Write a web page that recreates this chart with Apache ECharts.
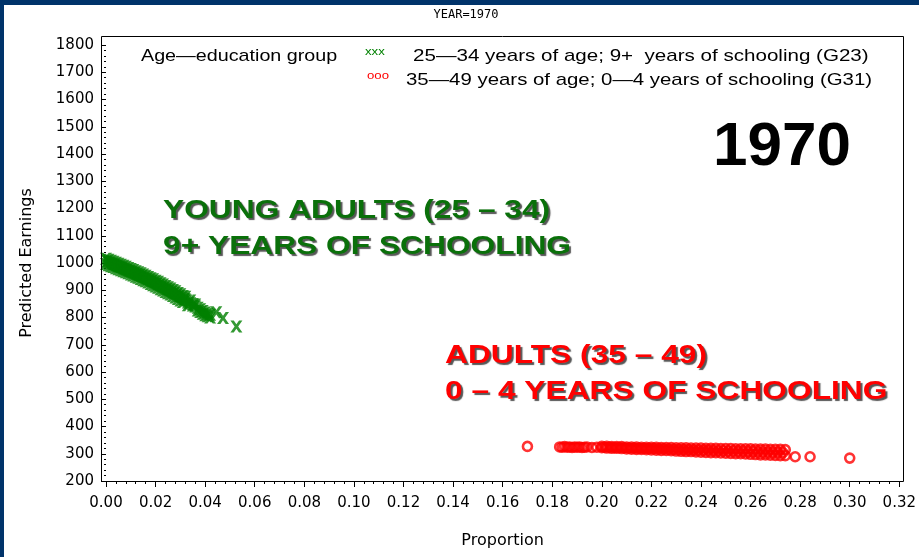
<!DOCTYPE html>
<html>
<head>
<meta charset="utf-8">
<script src="https://cdn.jsdelivr.net/npm/echarts@6/dist/echarts.min.js"></script>
<style>
html,body{margin:0;padding:0;background:#fff;}
#chart{width:919px;height:557px;}
</style>
</head>
<body>
<div id="chart"></div>
<script>
// G23: 25-34 years of age; 9+ years of schooling
const g23Proportion = [0.000,0.000,0.001,0.001,0.002,0.002,0.003,0.003,0.004,0.004,0.005,0.005,0.006,0.006,0.007,0.007,0.008,0.008,0.009,0.009,0.010,0.010,0.011,0.011,0.012,0.012,0.013,0.013,0.014,0.014,0.015,0.015,0.016,0.016,0.017,0.017,0.018,0.018,0.019,0.019,0.020,0.020,0.021,0.021,0.022,0.022,0.023,0.023,0.024,0.024,0.025,0.025,0.026,0.026,0.027,0.027,0.028,0.028,0.029,0.029,0.030,0.030,0.031,0.031,0.032,0.032,0.0325,0.033,0.033,0.034,0.034,0.035,0.035,0.036,0.036,0.037,0.037,0.038,0.038,0.039,0.039,0.040,0.040,0.041,0.041,0.042,0.042,0.0445,0.0472,0.0526,
  0.0005,0.0015,0.0025,0.0035,0.0045,0.0055,0.0065,0.0075,0.0085,0.0095,0.0105,0.0115,0.0125,0.0135,0.0145,0.0155,0.0165,0.0175,0.0185,0.0195,0.0205,0.0215,0.0225,0.0235,0.0245,0.0255,0.0265,0.0275,0.0285,0.0295,0.0305,0.0315];
const g23Earnings = [1016,996,1012,992,1008,988,1005,985,1001,981,997,977,994,973,990,970,986,966,982,962,978,958,974,954,970,950,966,946,962,941,958,937,953,933,949,928,944,923,940,918,935,914,931,909,926,904,921,899,916,894,911,889,906,884,901,879,896,873,890,868,885,862,879,857,876,866,862,855,845,862,852,844,850,848,840,836,826,830,820,824,814,818,808,814,805,810,800,819,798,767,
  1006,1002,998,995,991,987,984,980,976,972,968,964,960,956,952,948,943,939,934,929,925,920,915,910,905,900,895,890,885,879,874,868];
// G31: 35-49 years of age; 0-4 years of schooling
const g31Proportion = [0.170,0.183,0.184,0.185,0.186,0.187,0.188,0.189,0.190,0.191,0.192,0.193,0.194,0.196,0.198,0.200,0.200,0.202,0.202,0.204,0.204,0.206,0.206,0.208,0.208,0.210,0.210,0.212,0.212,0.214,0.214,0.216,0.216,0.218,0.218,0.220,0.220,0.222,0.222,0.224,0.224,0.226,0.226,0.228,0.228,0.230,0.230,0.232,0.232,0.234,0.234,0.236,0.236,0.238,0.238,0.240,0.240,0.242,0.242,0.244,0.244,0.246,0.246,0.248,0.248,0.250,0.250,0.252,0.252,0.254,0.254,0.256,0.256,0.258,0.258,0.260,0.260,0.262,0.262,0.264,0.264,0.266,0.266,0.268,0.268,0.270,0.270,0.272,0.272,0.274,0.274,0.278,0.284,0.300,
  0.201,0.203,0.205,0.207,0.209,0.211,0.213,0.215,0.217,0.219,0.221,0.223,0.225,0.227,0.229,0.231,0.233,0.235,0.237,0.239,0.241,0.243,0.245,0.247,0.249,0.251,0.253,0.255,0.257,0.259,0.261,0.263,0.265,0.267,0.269,0.271,0.273];
const g31Earnings = [327,325,324,326,324,325,323,325,324,325,323,324,325,323,324,327,322,327,321,326,320,326,320,326,319,325,318,325,317,325,316,324,316,324,315,324,314,324,313,323,312,323,312,323,311,322,310,322,309,322,308,321,308,321,307,321,306,320,305,320,304,320,304,319,303,319,302,319,301,318,300,318,300,318,299,318,298,317,297,317,296,317,296,316,295,316,294,316,293,315,293,289,289,284,
  324,324,323,323,322,321,321,320,320,319,319,318,318,317,316,316,315,315,314,314,313,313,312,311,311,310,310,309,309,308,308,307,306,306,305,305,304];

const legendTitle = 'Age\u2014education group';
const legendLabels = ['25\u201434 years of age; 9+  years of schooling (G23)', '35\u201449 years of age; 0\u20144 years of schooling (G31)'];
const chartTitle = 'YEAR=1970';
const xAxisTitle = 'Proportion';
const yAxisTitle = 'Predicted Earnings';
const yearLabel = '1970';
const noteG23 = ['YOUNG ADULTS (25 \u2013 34)', '9+ YEARS OF SCHOOLING'];
const noteG31 = ['ADULTS (35 \u2013 49)', '0 \u2013 4 YEARS OF SCHOOLING'];

const xSymbol = 'path://M0,0 L2.8,0 L5,3.1 L7.2,0 L10,0 L6.5,5 L10,10 L7.2,10 L5,6.9 L2.8,10 L0,10 L3.5,5 Z';

const chart = echarts.init(document.getElementById('chart'), null, {renderer: 'canvas'});

const tickFont = 'DejaVu Sans';
function txt(text, x, y, font, fill, opts) {
  opts = opts || {};
  const align = opts.align || 'left';
  return {
    type: 'text', x: x, y: y, silent: true, z: 20,
    scaleX: opts.scaleX || 1,
    style: {text: text, font: font, fill: fill, align: align, textAlign: align, verticalAlign: 'middle', textVerticalAlign: 'middle'}
  };
}
function shadowText(text, x, y, fill) {
  const e = txt(text, x, y, 'bold 26px "Liberation Sans", Arial, sans-serif', fill, {scaleX: 1.22});
  e.style.textShadowColor = 'rgba(30,30,30,0.75)';
  e.style.textShadowOffsetX = 2;
  e.style.textShadowOffsetY = 2;
  e.style.textShadowBlur = 1;
  return e;
}

const graphics = [
  {type: 'rect', silent: true, shape: {x: 0, y: 0, width: 919, height: 5}, style: {fill: '#00336A'}},
  {type: 'rect', silent: true, shape: {x: 0, y: 0, width: 4, height: 557}, style: {fill: '#00336A'}},
  {type: 'rect', silent: true, z: 10, shape: {x: 101.5, y: 36.5, width: 802, height: 445}, style: {fill: 'none', stroke: '#000', lineWidth: 1}},
  txt(chartTitle, 466, 15, '12px "DejaVu Sans Mono", monospace', '#000', {align: 'center'}),
  txt(legendTitle, 141, 56, '17px "Liberation Sans", Arial, sans-serif', '#000', {scaleX: 1.16}),
  txt('xxx', 365, 52, '11px "Liberation Sans", Arial, sans-serif', '#008000', {scaleX: 1.2}),
  txt('ooo', 367, 76, '11px "Liberation Sans", Arial, sans-serif', '#FF0000', {scaleX: 1.2}),
  txt(legendLabels[0], 413, 56, '17px "Liberation Sans", Arial, sans-serif', '#000', {scaleX: 1.21}),
  txt(legendLabels[1], 406, 80, '17px "Liberation Sans", Arial, sans-serif', '#000', {scaleX: 1.2}),
  txt(yearLabel, 713, 148, 'bold 62px "Liberation Sans", Arial, sans-serif', '#000'),
  shadowText(noteG23[0], 163, 211, '#0A700A'),
  shadowText(noteG23[1], 163, 247, '#0A700A'),
  shadowText(noteG31[0], 445, 356, '#FF0000'),
  shadowText(noteG31[1], 445, 392, '#FF0000')
];

const option = {
  animation: false,
  backgroundColor: '#fff',
  grid: {left: 106, right: 19, top: 45, bottom: 76, containLabel: false},
  xAxis: {
    type: 'value', min: 0, max: 0.32, interval: 0.02,
    name: xAxisTitle, nameLocation: 'middle', nameGap: 52,
    nameTextStyle: {fontFamily: 'DejaVu Sans', fontSize: 16, color: '#000'},
    axisLine: {show: false},
    axisTick: {show: true, length: 6, lineStyle: {color: '#000'}},
    minorTick: {show: true, splitNumber: 5, length: 3, lineStyle: {color: '#000'}},
    splitLine: {show: false},
    axisLabel: {margin: 15, fontFamily: tickFont, fontSize: 15, color: '#000', formatter: v => v.toFixed(2)}
  },
  yAxis: {
    type: 'value', min: 200, max: 1800, interval: 100, offset: 5,
    name: yAxisTitle, nameLocation: 'middle', nameGap: 66, nameRotate: 90,
    nameTextStyle: {fontFamily: 'DejaVu Sans', fontSize: 16, color: '#000'},
    axisLine: {show: false},
    axisTick: {show: true, length: 5, lineStyle: {color: '#000'}},
    minorTick: {show: true, splitNumber: 5, length: 2, lineStyle: {color: '#000'}},
    splitLine: {show: false},
    axisLabel: {margin: 7, fontFamily: tickFont, fontSize: 15, color: '#000', formatter: v => String(v)}
  },
  graphic: graphics,
  series: [
    {
      name: '25\u201434 years of age; 9+ years of schooling (G23)',
      type: 'scatter', clip: false, silent: true,
      symbol: xSymbol, symbolSize: 12,
      itemStyle: {color: '#008000'},
      data: g23Proportion.map((p, i) => [p, g23Earnings[i]])
    },
    {
      name: '35\u201449 years of age; 0\u20144 years of schooling (G31)',
      type: 'scatter', clip: false, silent: true,
      symbol: 'circle', symbolSize: 9,
      itemStyle: {color: 'rgba(255,255,255,0)', borderColor: '#FF0000', borderWidth: 2.6},
      data: g31Proportion.map((p, i) => [p, g31Earnings[i]])
    }
  ]
};
chart.setOption(option);
</script>
</body>
</html>
